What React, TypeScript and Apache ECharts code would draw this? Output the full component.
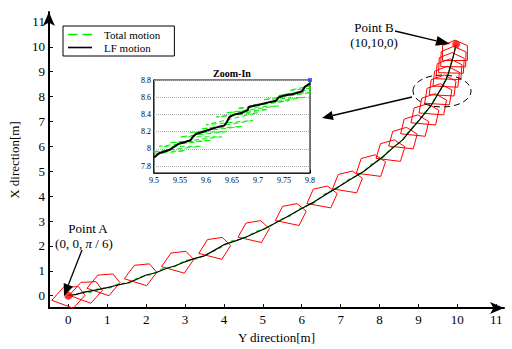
import React, { useEffect, useRef } from 'react';
import * as echarts from 'echarts';

const FONT = "'Liberation Serif', 'Times New Roman', serif";

// main axes tick values
const xTicks = [0, 1, 2, 3, 4, 5, 6, 7, 8, 9, 10, 11];
const yTicks = [0, 1, 2, 3, 4, 5, 6, 7, 8, 9, 10, 11];
// zoom-in axis tick values
const zoomYTicks = [7.8, 8, 8.2, 8.4, 8.6, 8.8];

// LF motion (Y direction, X direction)
const lfY = [0, 0.2, 0.45, 0.7, 1.0, 1.25, 1.5, 1.75, 2.0, 2.25, 2.5, 2.75, 3.0, 3.25, 3.5, 3.75, 4.0, 4.3, 4.6, 5.0, 5.3, 5.6, 6.0, 6.3, 6.6, 7.0, 7.3, 7.6, 7.85, 8.1, 8.35, 8.6, 8.8, 9.02, 9.2, 9.35, 9.48, 9.6, 9.7, 9.77, 9.84, 9.9, 9.94, 9.97];
const lfX = [0, 0.05, 0.15, 0.22, 0.32, 0.42, 0.5, 0.65, 0.83, 0.92, 1.08, 1.2, 1.36, 1.5, 1.6, 1.82, 2.05, 2.2, 2.38, 2.66, 2.9, 3.15, 3.5, 3.75, 4.05, 4.43, 4.72, 5.0, 5.3, 5.6, 5.95, 6.27, 6.65, 7.05, 7.4, 7.7, 8.05, 8.37, 8.65, 8.93, 9.3, 9.65, 9.9, 10.1];

// Total motion
const totalY = [0, 0.15, 0.35, 0.55, 0.8, 1.05, 1.3, 1.55, 1.8, 2.1, 2.4, 2.7, 3.0, 3.3, 3.6, 3.9, 4.2, 4.5, 4.8, 5.1, 5.4, 5.7, 6.0, 6.3, 6.6, 6.9, 7.2, 7.5, 7.8, 8.05, 8.3, 8.55, 8.75, 8.95, 9.15, 9.3, 9.45, 9.57, 9.68, 9.76, 9.83, 9.89, 9.94, 9.97];
const totalX = [0.03, 0.01, 0.16, 0.12, 0.30, 0.30, 0.49, 0.49, 0.74, 0.83, 1.07, 1.14, 1.41, 1.48, 1.69, 1.92, 2.20, 2.28, 2.57, 2.70, 3.03, 3.20, 3.55, 3.71, 4.10, 4.30, 4.67, 4.87, 5.29, 5.50, 5.93, 6.17, 6.60, 6.92, 7.35, 7.56, 8.02, 8.25, 8.64, 8.85, 9.30, 9.55, 9.93, 10.08];

// vessel outlines: position (Y, X) and heading in degrees
const shipY = [0.05, 0.5, 0.95, 1.9, 2.85, 3.8, 4.8, 5.75, 6.55, 7.2, 7.8, 8.3, 8.62, 8.92, 9.18, 9.38, 9.52, 9.63, 9.72, 9.79, 9.85, 9.9, 9.94];
const shipX = [0.0, 0.2, 0.5, 0.9, 1.4, 1.95, 2.62, 3.3, 4.0, 4.6, 5.25, 5.85, 6.35, 6.85, 7.3, 7.7, 8.1, 8.45, 8.8, 9.1, 9.35, 9.6, 9.85];
const shipHeading = [30, 30, 28, 26, 24, 22, 20, 18, 16, 14, 12, 11, 10, 9, 8, 7, 6, 5, 4, 3, 2, 1, 0];

// start / end points
const pointsY = [0, 9.97];
const pointsX = [0, 10.1];

// zoom-in: LF motion
const zoomLfY = [9.5, 9.51, 9.52, 9.53, 9.54, 9.548, 9.56, 9.57, 9.575, 9.58, 9.6, 9.62, 9.635, 9.64, 9.645, 9.655, 9.67, 9.68, 9.683, 9.7, 9.72, 9.735, 9.74, 9.75, 9.77, 9.785, 9.79, 9.8];
const zoomLfX = [7.9, 7.95, 7.97, 7.99, 8.03, 8.06, 8.08, 8.1, 8.14, 8.17, 8.21, 8.25, 8.27, 8.31, 8.37, 8.4, 8.42, 8.45, 8.49, 8.51, 8.54, 8.56, 8.6, 8.62, 8.64, 8.67, 8.72, 8.76];

// zoom-in: total motion
const zoomTotalY = [9.47, 9.56, 9.49, 9.59, 9.51, 9.61, 9.53, 9.63, 9.55, 9.64, 9.57, 9.67, 9.59, 9.69, 9.6, 9.7, 9.62, 9.72, 9.64, 9.74, 9.66, 9.76, 9.69, 9.79, 9.71, 9.82, 9.74, 9.83, 9.76, 9.84];
const zoomTotalX = [7.92, 7.98, 7.96, 8.03, 8.03, 8.1, 8.07, 8.14, 8.14, 8.2, 8.19, 8.26, 8.23, 8.33, 8.28, 8.42, 8.37, 8.46, 8.42, 8.5, 8.47, 8.56, 8.51, 8.6, 8.57, 8.67, 8.62, 8.72, 8.68, 8.78];

const zoomMarkY = [9.8];
const zoomMarkX = [8.8];

const zip = (a: number[], b: number[]) => a.map((v, i) => [v, b[i]]);

function arrow(x1: number, y1: number, x2: number, y2: number, len: number, half: number) {
  const dx = x2 - x1, dy = y2 - y1;
  const d = Math.sqrt(dx * dx + dy * dy);
  const ux = dx / d, uy = dy / d;
  const bx = x2 - ux * len, by = y2 - uy * len;
  const px = -uy, py = ux;
  return [
    { type: 'line', shape: { x1, y1, x2: bx, y2: by }, style: { stroke: '#000', lineWidth: 1.3 }, z: 100 },
    {
      type: 'polygon',
      shape: { points: [[x2, y2], [bx + px * half, by + py * half], [bx - px * half, by - py * half]] },
      style: { fill: '#000' },
      z: 100,
    },
  ];
}

function txt(x: number, y: number, text: string, size: number, weight = 'normal', rich?: any) {
  return {
    type: 'text',
    x,
    y,
    z: 100,
    style: {
      text,
      fontFamily: FONT,
      fontSize: size,
      fontWeight: weight,
      fill: '#000',
      align: 'center',
      verticalAlign: 'middle',
      textAlign: 'center',
      textVerticalAlign: 'middle',
      ...(rich ? { rich } : {}),
    },
  };
}

export default function App() {
  const ref = useRef<HTMLDivElement>(null);
  useEffect(() => {
    const chart = echarts.init(ref.current!, null, { renderer: 'svg' });
    const hull = [[0.42, 0], [0.2, 0.32], [-0.4, 0.32], [-0.4, -0.32], [0.2, -0.32]];
    const shipData = shipY.map((y, i) => [y, shipX[i], shipHeading[i]]);

    const axisLabelMain = { color: '#000', fontFamily: FONT, fontSize: 13 };
    const zoomLabel = { color: '#000', fontFamily: FONT, fontSize: 8, margin: 3 };

    const option: any = {
      animation: false,
      backgroundColor: '#fff',
      textStyle: { fontFamily: FONT },
      grid: [
        { left: 39, right: 8, top: 12, bottom: 34 },
        { left: 154, top: 80, width: 156, height: 93, show: true, backgroundColor: '#fff', borderColor: '#000', borderWidth: 1, z: 5 },
      ],
      legend: {
        data: [
          { name: 'Total motion', icon: 'path://M0,0h12v2h-12zM18,0h12v2h-12z', itemStyle: { color: '#00ee00' } },
          { name: 'LF motion', icon: 'path://M0,0h30v2h-30z', itemStyle: { color: '#000' } },
        ],
        orient: 'vertical',
        left: 63,
        top: 26,
        padding: [3, 14, 3, 5],
        itemGap: 2,
        itemWidth: 30,
        itemHeight: 1.6,
        borderColor: '#000',
        borderWidth: 1,
        backgroundColor: '#fff',
        borderRadius: 0,
        textStyle: { fontFamily: FONT, fontSize: 11, color: '#000', padding: [0, 0, 0, 4] },
        selectedMode: false,
      },
      xAxis: [
        {
          type: 'value',
          gridIndex: 0,
          min: -0.5,
          max: 11.2,
          name: 'Y direction[m]',
          nameLocation: 'middle',
          nameGap: 18,
          nameTextStyle: { fontFamily: FONT, fontSize: 13, color: '#000' },
          axisLine: { onZero: false, lineStyle: { color: '#000', width: 2 }, symbol: ['none', 'arrow'], symbolSize: [9, 14] },
          axisTick: { inside: true, length: 4, customValues: xTicks, lineStyle: { color: '#000' } },
          axisLabel: { ...axisLabelMain, margin: 5, customValues: xTicks },
          splitLine: { show: false },
        },
        {
          type: 'value',
          gridIndex: 1,
          min: 9.5,
          max: 9.8,
          interval: 0.05,
          axisLine: { onZero: false, lineStyle: { color: '#000', width: 1.5 } },
          axisTick: { inside: true, length: 3, lineStyle: { color: '#000' } },
          axisLabel: zoomLabel,
          splitLine: { show: true, lineStyle: { type: 'dotted', color: '#aaa' } },
        },
      ],
      yAxis: [
        {
          type: 'value',
          gridIndex: 0,
          min: -0.5,
          max: 11.4,
          name: 'X direction[m]',
          nameLocation: 'middle',
          nameGap: 20,
          nameTextStyle: { fontFamily: FONT, fontSize: 13, color: '#000' },
          axisLine: { onZero: false, lineStyle: { color: '#000', width: 2 }, symbol: ['none', 'arrow'], symbolSize: [9, 14] },
          axisTick: { inside: true, length: 4, customValues: yTicks, lineStyle: { color: '#000' } },
          axisLabel: { ...axisLabelMain, margin: 4, customValues: yTicks },
          splitLine: { show: false },
        },
        {
          type: 'value',
          gridIndex: 1,
          min: 7.72,
          max: 8.8,
          axisLine: { onZero: false, lineStyle: { color: '#000', width: 1.5 } },
          axisTick: { inside: true, length: 3, customValues: zoomYTicks, lineStyle: { color: '#000' } },
          axisLabel: { ...zoomLabel, customValues: zoomYTicks },
          splitLine: { show: false },
        },
      ],
      series: [
        {
          type: 'custom',
          name: 'vessel',
          xAxisIndex: 0,
          yAxisIndex: 0,
          data: shipData,
          encode: { x: 0, y: 1 },
          z: 2,
          renderItem: (params: any, api: any) => {
            const cy = api.value(0);
            const cx = api.value(1);
            const h = (api.value(2) * Math.PI) / 180;
            const pts = hull.map(([f, s]) => {
              const Y = cy + f * Math.sin(h) + s * Math.cos(h);
              const X = cx + f * Math.cos(h) - s * Math.sin(h);
              return api.coord([Y, X]);
            });
            return { type: 'polygon', shape: { points: pts }, style: { fill: 'none', stroke: '#ff0000', lineWidth: 1 } };
          },
        },
        {
          type: 'line',
          name: 'Total motion',
          xAxisIndex: 0,
          yAxisIndex: 0,
          data: zip(totalY, totalX),
          symbol: 'none',
          lineStyle: { color: '#00ee00', width: 1.2, type: [4, 3] },
          itemStyle: { color: '#00ee00' },
          z: 3,
        },
        {
          type: 'line',
          name: 'LF motion',
          xAxisIndex: 0,
          yAxisIndex: 0,
          data: zip(lfY, lfX),
          symbol: 'none',
          lineStyle: { color: '#000', width: 1.2 },
          itemStyle: { color: '#000' },
          z: 4,
        },
        {
          type: 'scatter',
          name: 'points',
          xAxisIndex: 0,
          yAxisIndex: 0,
          data: zip(pointsY, pointsX),
          symbolSize: 8,
          itemStyle: { color: '#ff0000' },
          z: 6,
        },
        {
          type: 'line',
          name: 'Total zoom',
          xAxisIndex: 1,
          yAxisIndex: 1,
          data: zip(zoomTotalY, zoomTotalX),
          symbol: 'none',
          lineStyle: { color: '#00ee00', width: 1, type: [5, 3] },
          z: 10,
          markLine: {
            silent: true,
            symbol: 'none',
            label: { show: false },
            lineStyle: { type: 'dotted', color: '#aaa', width: 1 },
            data: zoomYTicks.map((v) => ({ yAxis: v })),
          },
        },
        {
          type: 'line',
          name: 'LF zoom',
          xAxisIndex: 1,
          yAxisIndex: 1,
          data: zip(zoomLfY, zoomLfX),
          symbol: 'none',
          lineStyle: { color: '#000', width: 2 },
          z: 11,
        },
        {
          type: 'scatter',
          name: 'zoom mark',
          xAxisIndex: 1,
          yAxisIndex: 1,
          data: zip(zoomMarkY, zoomMarkX),
          symbol: 'rect',
          symbolSize: 4,
          itemStyle: { color: '#2244ff' },
          z: 12,
        },
      ],
      graphic: [
        txt(232, 73, 'Zoom-In', 10, 'bold'),
        txt(88, 228, 'Point A', 13),
        txt(84, 243, '{n|(0, 0, }{i|π}{n| / 6)}', 13, 'normal', {
          n: { fontFamily: FONT, fontSize: 13, fill: '#000', color: '#000' },
          i: { fontFamily: FONT, fontSize: 13, fontStyle: 'italic', fill: '#000', color: '#000' },
        }),
        txt(374, 27, 'Point B', 13),
        txt(374, 42, '(10,10,0)', 13),
        ...arrow(82, 250, 64, 296, 12, 5),
        ...arrow(395, 31, 450, 44, 14, 5),
        ...arrow(412, 97, 322, 118, 11, 4.5),
        {
          type: 'ellipse',
          shape: { cx: 442, cy: 91, rx: 29, ry: 16 },
          style: { fill: 'none', stroke: '#000', lineWidth: 1, lineDash: [6, 4] },
          z: 100,
        },
      ],
    };
    chart.setOption(option);
    return () => chart.dispose();
  }, []);
  return <div ref={ref} style={{ position: 'absolute', left: 0, top: 0, width: 512, height: 349 }} />;
}
